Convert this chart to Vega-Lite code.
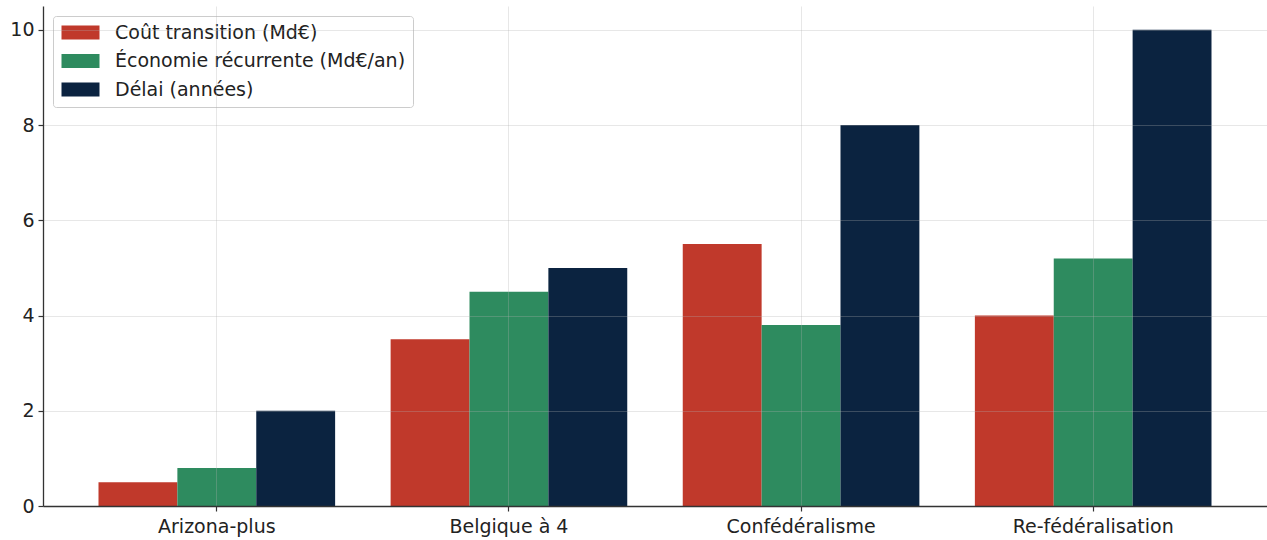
{
  "$schema": "https://vega.github.io/schema/vega-lite/v6.json",
  "width": 1224,
  "height": 500,
  "autosize": {"type": "none"},
  "padding": {"left": 43, "top": 6, "right": 0, "bottom": 34},
  "background": "white",
  "config": {
    "view": {"stroke": null},
    "font": "DejaVu Sans"
  },
  "data": {
    "values": [
      {"scenario": "Arizona-plus", "serie": "Coût transition (Md€)", "valeur": 0.5},
      {"scenario": "Arizona-plus", "serie": "Économie récurrente (Md€/an)", "valeur": 0.8},
      {"scenario": "Arizona-plus", "serie": "Délai (années)", "valeur": 2},
      {"scenario": "Belgique à 4", "serie": "Coût transition (Md€)", "valeur": 3.5},
      {"scenario": "Belgique à 4", "serie": "Économie récurrente (Md€/an)", "valeur": 4.5},
      {"scenario": "Belgique à 4", "serie": "Délai (années)", "valeur": 5},
      {"scenario": "Confédéralisme", "serie": "Coût transition (Md€)", "valeur": 5.5},
      {"scenario": "Confédéralisme", "serie": "Économie récurrente (Md€/an)", "valeur": 3.8},
      {"scenario": "Confédéralisme", "serie": "Délai (années)", "valeur": 8},
      {"scenario": "Re-fédéralisation", "serie": "Coût transition (Md€)", "valeur": 4},
      {"scenario": "Re-fédéralisation", "serie": "Économie récurrente (Md€/an)", "valeur": 5.2},
      {"scenario": "Re-fédéralisation", "serie": "Délai (années)", "valeur": 10}
    ]
  },
  "mark": {"type": "bar"},
  "encoding": {
    "x": {
      "field": "scenario",
      "type": "nominal",
      "sort": ["Arizona-plus", "Belgique à 4", "Confédéralisme", "Re-fédéralisation"],
      "scale": {"paddingInner": 0.19, "paddingOuter": 0.19},
      "axis": {
        "title": null,
        "labelAngle": 0,
        "labelFontSize": 19,
        "labelColor": "#222222",
        "labelPadding": 6,
        "tickSize": 5,
        "tickColor": "#333333",
        "tickWidth": 1.2,
        "domainColor": "#333333",
        "domainWidth": 1.3,
        "grid": true,
        "gridColor": "#b0b0b0",
        "gridOpacity": 0.3,
        "gridWidth": 1,
        "bandPosition": 0.5,
        "zindex": 1
      }
    },
    "xOffset": {
      "field": "serie",
      "type": "nominal",
      "sort": ["Coût transition (Md€)", "Économie récurrente (Md€/an)", "Délai (années)"],
      "scale": {"paddingInner": 0, "paddingOuter": 0}
    },
    "y": {
      "field": "valeur",
      "type": "quantitative",
      "scale": {"domain": [0, 10.5], "nice": false},
      "axis": {
        "title": null,
        "values": [0, 2, 4, 6, 8, 10],
        "labelFontSize": 19,
        "labelColor": "#222222",
        "labelPadding": 4,
        "tickSize": 5,
        "tickColor": "#333333",
        "tickWidth": 1.2,
        "domainColor": "#333333",
        "domainWidth": 1.3,
        "grid": true,
        "gridColor": "#b0b0b0",
        "gridOpacity": 0.3,
        "gridWidth": 1,
        "zindex": 1
      }
    },
    "color": {
      "field": "serie",
      "type": "nominal",
      "sort": ["Coût transition (Md€)", "Économie récurrente (Md€/an)", "Délai (années)"],
      "scale": {
        "domain": ["Coût transition (Md€)", "Économie récurrente (Md€/an)", "Délai (années)"],
        "range": ["#c0392b", "#2e8b5f", "#0b2340"]
      },
      "legend": {
        "title": null,
        "orient": "none",
        "legendX": 10,
        "legendY": 10,
        "padding": 7,
        "symbolType": "M-2.714,-1H2.714V1H-2.714Z",
        "symbolSize": 196,
        "symbolOffset": 11,
        "symbolStrokeWidth": 0,
        "symbolOpacity": 1,
        "labelOffset": 25,
        "labelFontSize": 19,
        "labelColor": "#222222",
        "labelLimit": 400,
        "rowPadding": 8.5,
        "strokeColor": "#cccccc",
        "fillColor": "rgba(255,255,255,0.8)",
        "cornerRadius": 3
      }
    }
  }
}
